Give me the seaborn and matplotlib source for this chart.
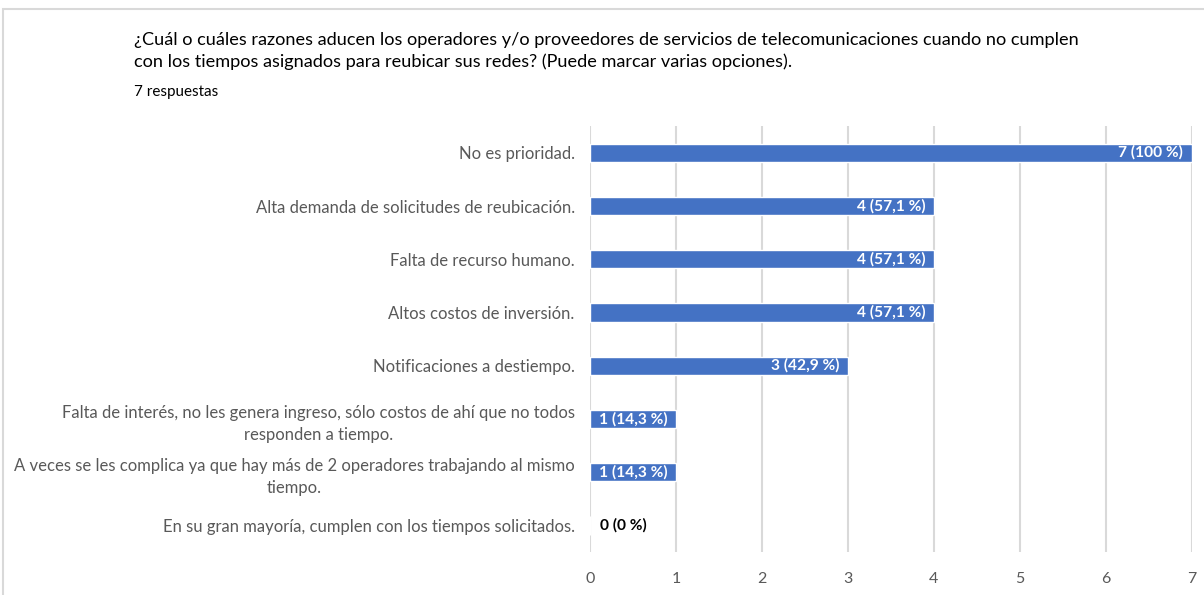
import pandas as pd
import matplotlib.pyplot as plt
import seaborn as sns
from matplotlib.patches import Rectangle

# Data
razones = [
    "No es prioridad.",
    "Alta demanda de solicitudes de reubicación.",
    "Falta de recurso humano.",
    "Altos costos de inversión.",
    "Notificaciones a destiempo.",
    "Falta de interés, no les genera ingreso, sólo costos de ahí que no todos\nresponden a tiempo.",
    "A veces se les complica ya que hay más de 2 operadores trabajando al mismo\ntiempo.",
    "En su gran mayoría, cumplen con los tiempos solicitados.",
]
respuestas = [7, 4, 4, 4, 3, 1, 1, 0]
etiquetas = ["7 (100 %)", "4 (57,1 %)", "4 (57,1 %)", "4 (57,1 %)",
             "3 (42,9 %)", "1 (14,3 %)", "1 (14,3 %)", "0 (0 %)"]
x_ticks = [0, 1, 2, 3, 4, 5, 6, 7]

df = pd.DataFrame({"razon": razones, "n": respuestas})

sns.set_style("white")
plt.rcParams['font.family'] = ['Lato', 'DejaVu Sans']

fig = plt.figure(figsize=(12.04, 5.95), dpi=100)
ax = fig.add_axes([0.490, 0.072, 0.500, 0.716])

sns.barplot(data=df, x="n", y="razon", orient="h", color="#4472C4",
            width=0.34, saturation=1, ax=ax)

ax.set_xlim(0, 7)
ax.set_ylim(7.5, -0.5)
ax.set_xticks(x_ticks)
ax.set_xticklabels([str(t) for t in x_ticks], color="#595959", fontsize=11.5)
ax.set_yticklabels(razones, color="#595959", fontsize=12,
                   multialignment="center", linespacing=1.5)
ax.tick_params(axis="both", length=0)
ax.tick_params(axis="y", pad=11)
ax.tick_params(axis="x", pad=14)
ax.set_xlabel("")
ax.set_ylabel("")
for s in ax.spines.values():
    s.set_visible(False)
ax.grid(axis="x", color="#d9d9d9", linewidth=1.5)
ax.set_axisbelow(True)

# value labels
for i, (v, lab) in enumerate(zip(respuestas, etiquetas)):
    if v > 0:
        ax.text(v - 0.1, i, lab, ha="right", va="center", color="white",
                fontsize=11.2, fontweight="bold")
    else:
        ax.text(0.12, i, lab, ha="left", va="center", color="black",
                fontsize=11.2, fontweight="bold")

# title block
fig.text(134 / 1204, 1 - 51 / 595,
         "¿Cuál o cuáles razones aducen los operadores y/o proveedores de servicios de telecomunicaciones cuando no cumplen\n"
         "con los tiempos asignados para reubicar sus redes? (Puede marcar varias opciones).",
         ha="left", va="center", fontsize=13.1, color="black", linespacing=1.4)
fig.text(134 / 1204, 1 - 92 / 595, "7 respuestas", ha="left", va="center",
         fontsize=11, color="black")

# frame
fig.patches.append(Rectangle((3 / 1204, -0.1), 1.2, 1 - 9 / 595 + 0.1,
                             transform=fig.transFigure, fill=False,
                             edgecolor="#d9d9d9", linewidth=1.5))

fig.savefig("out.png", dpi=100)
